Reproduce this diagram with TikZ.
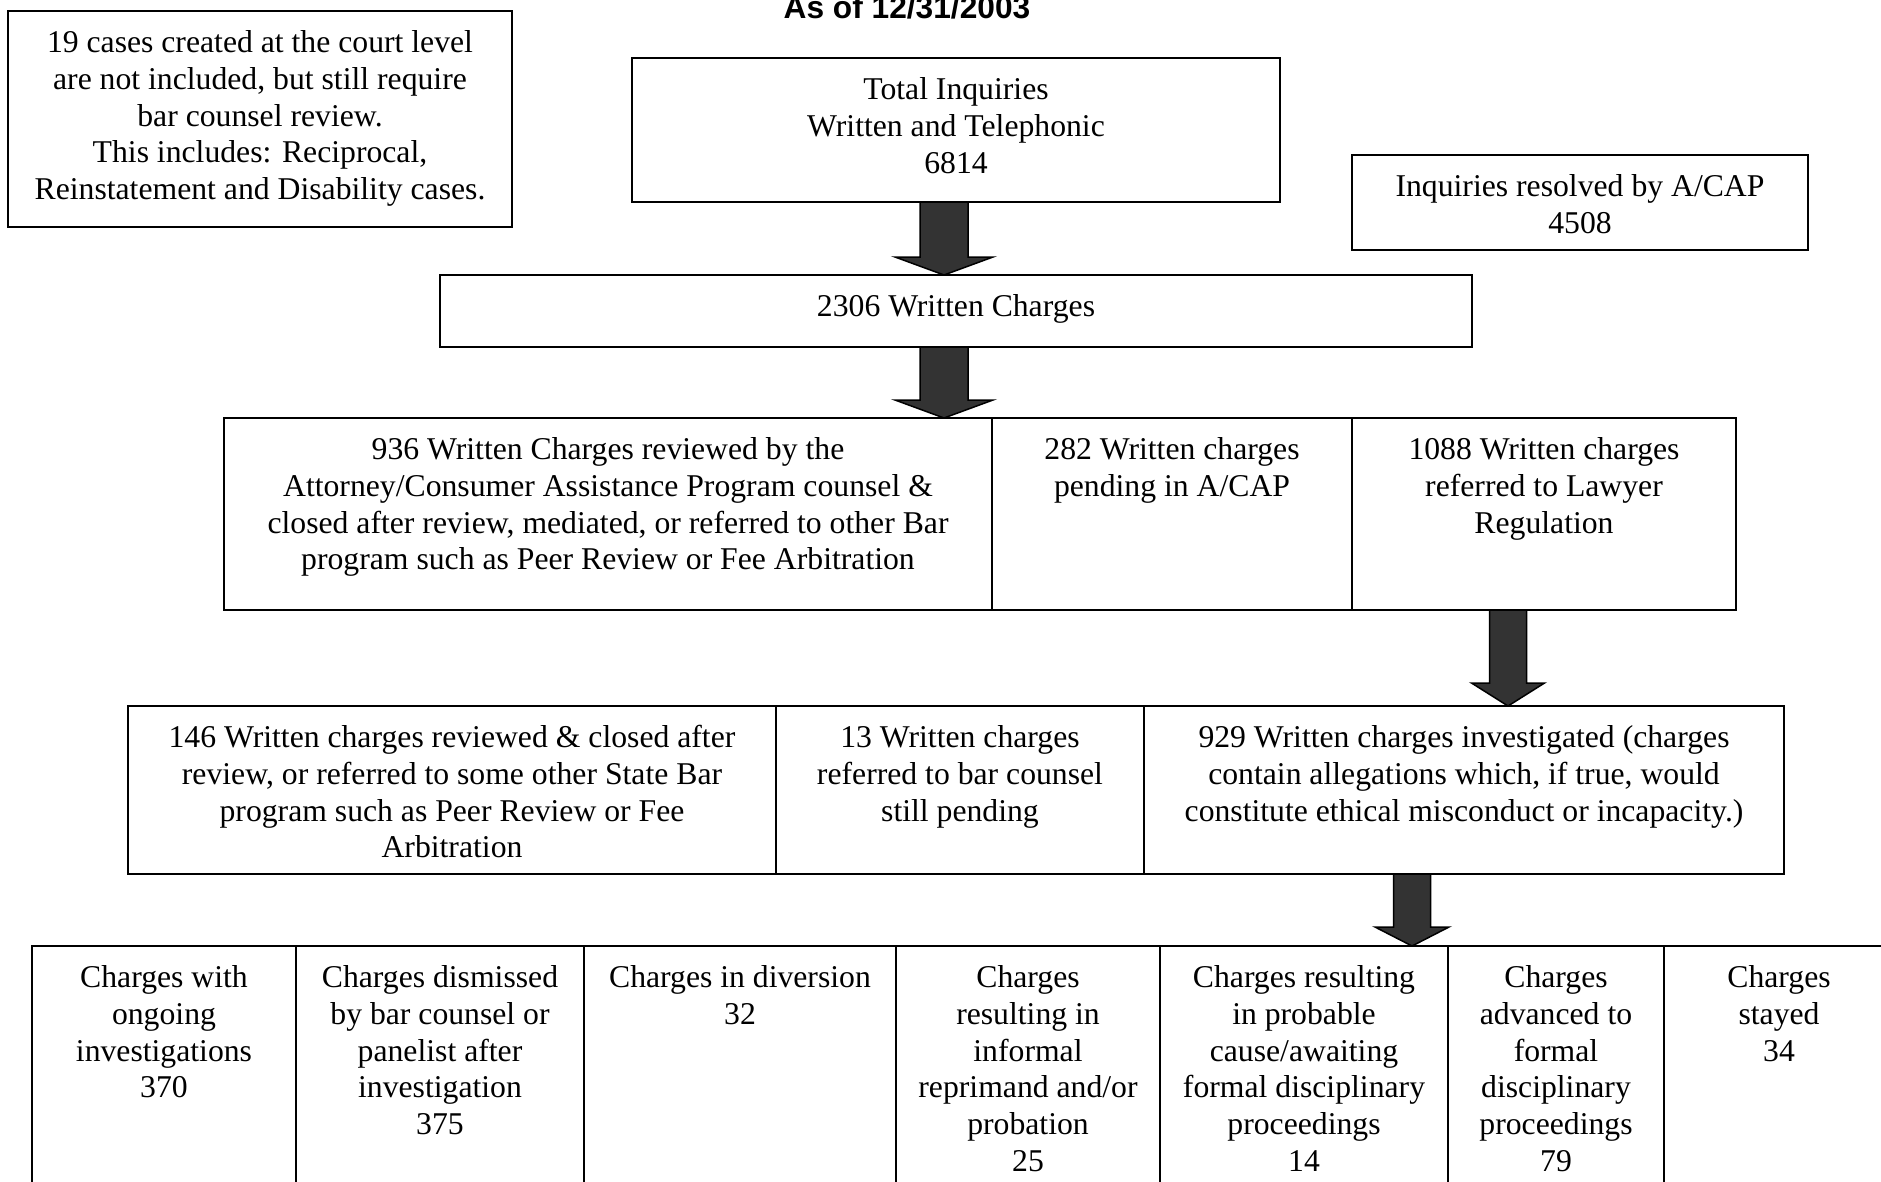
\documentclass[tikz,border=0pt]{standalone}
\usepackage{fontspec}
\setmainfont{Liberation Serif}
\newfontfamily\titlefont{Liberation Sans}
\usetikzlibrary{positioning,calc}
\definecolor{arrowgray}{RGB}{51,51,51}
\tikzset{
  box/.style={draw=black, line width=2.2pt, inner sep=0pt, outer sep=0pt, anchor=north west},
  txt/.style={inner sep=0pt, align=center, font=\fontsize{31.7}{36.8}\selectfont},
  blockarrow/.style={fill=arrowgray, draw=black, line width=1.5pt, line join=miter},
}
\newcommand{\cell}[6]{%
  \node[box, minimum width=#4pt, minimum height=#5pt] (#1) at (#2,#3) {};
  \node[txt, below=15.5pt of #1.north] (#1t) {\strut #6};
}
\newcommand{\barrow}[6]{%
  \path[blockarrow] ($(#1 |- #2.south)+(-#4,0)$) -- ($(#1 |- #3.north)+(-#4,-#6)$)
    -- ($(#1 |- #3.north)+(-#5,-#6)$) -- (#1 |- #3.north)
    -- ($(#1 |- #3.north)+(#5,-#6)$) -- ($(#1 |- #3.north)+(#4,-#6)$)
    -- ($(#1 |- #2.south)+(#4,0)$) -- cycle;
}
\begin{document}
\begin{tikzpicture}[x=1pt,y=-1pt]
\useasboundingbox (0,0) rectangle (1881,1181);
\clip (0,0) rectangle (1881,1181);
\fill[white] (0,0) rectangle (1881,1181);

\node[font=\titlefont\fontsize{31.7}{36.8}\bfseries\selectfont, anchor=base, inner sep=0pt] (title) at (907,18) {As of 12/31/2003};

\cell{note}{8}{11}{504}{216}{19 cases created at the court level\\are not included, but still require\\bar counsel review.\\This includes: Reciprocal,\\Reinstatement and Disability cases.}
\cell{tot}{632}{58}{648}{144}{Total Inquiries\\Written and Telephonic\\6814}
\cell{res}{1352}{155}{456}{95}{Inquiries resolved by A/CAP\\4508}
\cell{wc}{440}{275}{1032}{72}{2306 Written Charges}

\cell{r3a}{224}{418}{768}{192}{936 Written Charges reviewed by the\\Attorney/Consumer Assistance Program counsel \&\\closed after review, mediated, or referred to other Bar\\program such as Peer Review or Fee Arbitration}
\cell{r3b}{992}{418}{360}{192}{282 Written charges\\pending in A/CAP}
\cell{r3c}{1352}{418}{384}{192}{1088 Written charges\\referred to Lawyer\\Regulation}

\cell{r4a}{128}{706}{648}{168}{146 Written charges reviewed \& closed after\\review, or referred to some other State Bar\\program such as Peer Review or Fee\\Arbitration}
\cell{r4b}{776}{706}{368}{168}{13 Written charges\\referred to bar counsel\\still pending}
\cell{r4c}{1144}{706}{640}{168}{929 Written charges investigated (charges\\contain allegations which, if true, would\\constitute ethical misconduct or incapacity.)}

\cell{r5a}{32}{946}{264}{300}{Charges with\\ongoing\\investigations\\370}
\cell{r5b}{296}{946}{288}{300}{Charges dismissed\\by bar counsel or\\panelist after\\investigation\\375}
\cell{r5c}{584}{946}{312}{300}{Charges in diversion\\32}
\cell{r5d}{896}{946}{264}{300}{Charges\\resulting in\\informal\\reprimand and/or\\probation\\25}
\cell{r5e}{1160}{946}{288}{300}{Charges resulting\\in probable\\cause/awaiting\\formal disciplinary\\proceedings\\14}
\cell{r5f}{1448}{946}{216}{300}{Charges\\advanced to\\formal\\disciplinary\\proceedings\\79}
\cell{r5g}{1664}{946}{230}{300}{Charges\\stayed\\34}

\coordinate (ax1) at (944,0);
\coordinate (ax3) at (1508,0);
\coordinate (ax4) at (1412,0);
\barrow{ax1}{tot}{wc}{24}{49}{18}
\barrow{ax1}{wc}{r3a}{24}{49}{18}
\barrow{ax3}{r3c}{r4c}{18.5}{36.5}{23}
\barrow{ax4}{r4c}{r5e}{18.5}{37}{19}
\end{tikzpicture}
\end{document}
